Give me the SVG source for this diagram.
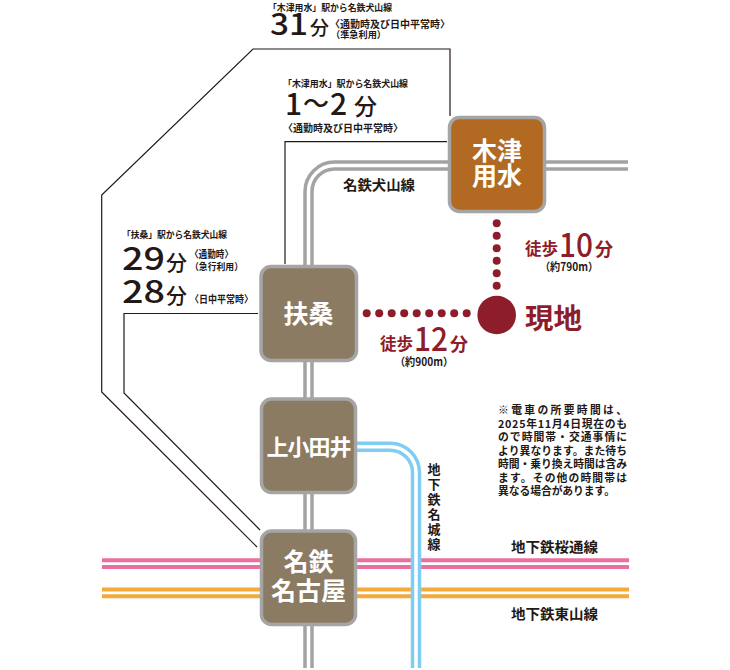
<svg xmlns="http://www.w3.org/2000/svg" width="730" height="670" viewBox="0 0 730 670">
<style>
text{font-family:"Noto Sans CJK JP","Noto Sans",sans-serif}
.k{fill:#231815}
.b{font-weight:700}
.m{font-weight:500}
.w{fill:#ffffff;font-weight:700;text-anchor:middle}
.r{fill:#8d1d2a}
.rail{fill:none;stroke-linejoin:round}
.st{stroke:#a5a5a5;stroke-width:3.5}
.br{fill:none;stroke:#231815;stroke-width:1.2}
</style>
<rect width="730" height="670" fill="#ffffff"/>
<g id="connectors">
  <path class="rail" d="M102,563.7 H629" stroke="#ec6ea1" stroke-width="10.7"/>
  <path class="rail" d="M102,563.7 H629" stroke="#ffffff" stroke-width="2.7"/>
  <path class="rail" d="M102,592.8 H629" stroke="#f5a93b" stroke-width="10.7"/>
  <path class="rail" d="M102,592.8 H629" stroke="#ffffff" stroke-width="2.7"/>
  <path class="rail" d="M350,446.7 H390 A26,26 0 0 1 416,472.7 V668" stroke="#7fcdf0" stroke-width="10.5"/>
  <path class="rail" d="M350,446.7 H390 A26,26 0 0 1 416,472.7 V668" stroke="#ffffff" stroke-width="3.5"/>
  <path class="rail" d="M628,165.5 H334.5 A26,26 0 0 0 308.5,191.5 V668" stroke="#a3a3a3" stroke-width="10.5"/>
  <path class="rail" d="M628,165.5 H334.5 A26,26 0 0 0 308.5,191.5 V668" stroke="#ffffff" stroke-width="3.5"/>
  <path class="br" d="M450,116 V49 H253 L101.7,195 V392 L257,547"/>
  <path class="br" d="M285,264 V141.7 H447"/>
  <path class="br" d="M258,313.5 H124 V393 L260,530"/>
  <g fill="#8d1d2a">
    <circle cx="496.7" cy="223.3" r="4"/>
    <circle cx="496.7" cy="235.8" r="4"/>
    <circle cx="496.7" cy="248.3" r="4"/>
    <circle cx="496.7" cy="260.8" r="4"/>
    <circle cx="496.7" cy="273.3" r="4"/>
    <circle cx="496.7" cy="285.8" r="4"/>
    <circle cx="366.7" cy="313.3" r="4"/>
    <circle cx="379.2" cy="313.3" r="4"/>
    <circle cx="391.7" cy="313.3" r="4"/>
    <circle cx="404.2" cy="313.3" r="4"/>
    <circle cx="416.7" cy="313.3" r="4"/>
    <circle cx="429.2" cy="313.3" r="4"/>
    <circle cx="441.7" cy="313.3" r="4"/>
    <circle cx="454.2" cy="313.3" r="4"/>
    <circle cx="466.7" cy="313.3" r="4"/>
  </g>
</g>
<g id="kizuyosui">
  <rect class="st" x="449.5" y="117.5" width="95" height="94" rx="10" fill="#b26a22"/>
  <text class="w" font-size="25"><tspan x="497" y="160">木津</tspan><tspan x="497" y="185">用水</tspan></text>
</g>
<g id="fuso">
  <rect class="st" x="261" y="266.5" width="95.5" height="94" rx="10" fill="#8c7b63"/>
  <text class="w" x="308.5" y="323" font-size="25">扶桑</text>
</g>
<g id="kamiotai">
  <rect class="st" x="261.5" y="399" width="94" height="93.5" rx="10" fill="#8c7b63"/>
  <text class="w" x="308.5" y="455" font-size="22" letter-spacing="-1">上小田井</text>
</g>
<g id="meitetsunagoya">
  <rect class="st" x="261.5" y="531" width="94" height="93.5" rx="10" fill="#8c7b63"/>
  <text class="w" font-size="25"><tspan x="308.5" y="571">名鉄</tspan><tspan x="308.5" y="600">名古屋</tspan></text>
</g>
<g id="genchi">
  <circle cx="496.7" cy="315" r="19.3" fill="#8d1d2a"/>
  <text class="r b" x="525" y="329" font-size="28.5">現地</text>
</g>
<g id="labels">
  <text class="k b" x="268" y="11" font-size="9.5" textLength="124" lengthAdjust="spacingAndGlyphs">「木津用水」駅から名鉄犬山線</text>
  <text class="k m" y="35"><tspan x="270" font-size="29" textLength="38" lengthAdjust="spacingAndGlyphs">31</tspan><tspan x="310" font-size="19">分</tspan></text>
  <text class="k b" font-size="10"><tspan x="330" y="28" textLength="120" lengthAdjust="spacingAndGlyphs">〈通勤時及び日中平常時〉</tspan><tspan x="331" y="38" font-size="9.5" textLength="55" lengthAdjust="spacingAndGlyphs">（準急利用）</tspan></text>

  <text class="k b" x="283" y="87" font-size="9.5" textLength="125" lengthAdjust="spacingAndGlyphs">「木津用水」駅から名鉄犬山線</text>
  <text class="k m" y="115"><tspan x="285" font-size="30">1</tspan><tspan x="303" y="113" font-size="26">～</tspan><tspan x="330" y="115" font-size="30">2</tspan><tspan x="354" font-size="23">分</tspan></text>
  <text class="k b" x="283" y="132" font-size="10" textLength="120" lengthAdjust="spacingAndGlyphs">〈通勤時及び日中平常時〉</text>

  <text class="k b" x="122" y="238" font-size="9.5" textLength="105" lengthAdjust="spacingAndGlyphs">「扶桑」駅から名鉄犬山線</text>
  <text class="k m"><tspan x="122" y="270" font-size="31" textLength="43" lengthAdjust="spacingAndGlyphs">29</tspan><tspan x="166" y="270" font-size="21">分</tspan><tspan x="122" y="303" font-size="31" textLength="43" lengthAdjust="spacingAndGlyphs">28</tspan><tspan x="166" y="303" font-size="21">分</tspan></text>
  <text class="k b" font-size="10"><tspan x="190" y="258" textLength="43" lengthAdjust="spacingAndGlyphs">〈通勤時〉</tspan><tspan x="190" y="270" font-size="9.5" textLength="53" lengthAdjust="spacingAndGlyphs">（急行利用）</tspan><tspan x="190" y="303" textLength="63" lengthAdjust="spacingAndGlyphs">〈日中平常時〉</tspan></text>

  <text class="k b" x="343" y="190" font-size="14" textLength="72" lengthAdjust="spacingAndGlyphs">名鉄犬山線</text>

  <text y="256"><tspan class="r b" x="525" y="255" font-size="16.5">徒歩</tspan><tspan class="r m" x="559" y="256.5" font-size="32" textLength="34" lengthAdjust="spacingAndGlyphs">10</tspan><tspan class="r b" x="595" y="256" font-size="18">分</tspan></text>
  <text class="k b" x="540" y="271" font-size="11" textLength="58" lengthAdjust="spacingAndGlyphs">（約790m）</text>

  <text><tspan class="r b" x="380" y="350" font-size="16.5">徒歩</tspan><tspan class="r m" x="414" y="351" font-size="32" textLength="34" lengthAdjust="spacingAndGlyphs">12</tspan><tspan class="r b" x="450" y="351" font-size="18">分</tspan></text>
  <text class="k b" x="395" y="366" font-size="11" textLength="58" lengthAdjust="spacingAndGlyphs">（約900m）</text>

  <text class="k b" font-size="10.8">
    <tspan x="498" y="414" textLength="129" lengthAdjust="spacing">※電車の所要時間は、</tspan>
    <tspan x="498" y="427.5" textLength="129" lengthAdjust="spacing">2025年11月4日現在のも</tspan>
    <tspan x="498" y="441" textLength="129" lengthAdjust="spacing">ので時間帯・交通事情に</tspan>
    <tspan x="498" y="454.5" textLength="129" lengthAdjust="spacing">より異なります。また待ち</tspan>
    <tspan x="498" y="468" textLength="129" lengthAdjust="spacing">時間・乗り換え時間は含み</tspan>
    <tspan x="498" y="481.5" textLength="129" lengthAdjust="spacing">ます。その他の時間帯は</tspan>
    <tspan x="498" y="495" textLength="117" lengthAdjust="spacing">異なる場合があります。</tspan>
  </text>

  <text class="k b" font-size="13" text-anchor="middle"><tspan x="434" y="473.5">地</tspan><tspan x="434" y="488.5">下</tspan><tspan x="434" y="503.5">鉄</tspan><tspan x="434" y="518.5">名</tspan><tspan x="434" y="533.5">城</tspan><tspan x="434" y="548.5">線</tspan></text>

  <text class="k b" x="511" y="551.5" font-size="14" textLength="87" lengthAdjust="spacingAndGlyphs">地下鉄桜通線</text>
  <text class="k b" x="511" y="618.5" font-size="14" textLength="87" lengthAdjust="spacingAndGlyphs">地下鉄東山線</text>
</g>
</svg>
